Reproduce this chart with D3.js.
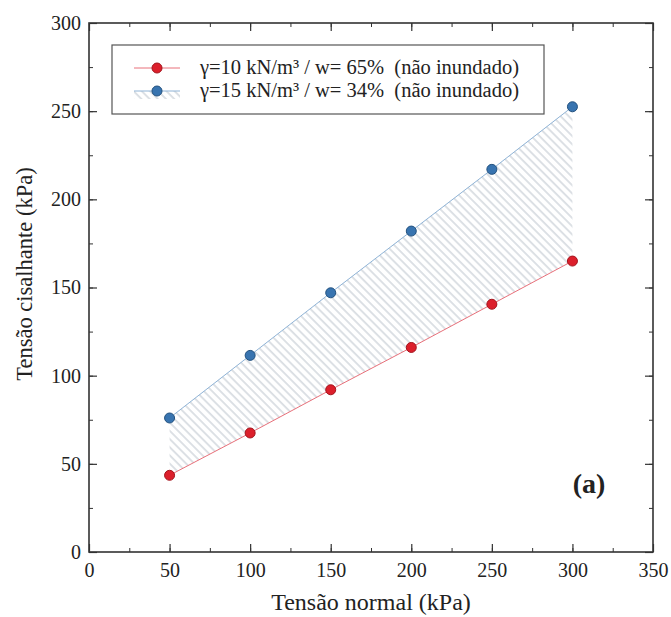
<!DOCTYPE html>
<html>
<head>
<meta charset="utf-8">
<script src="https://cdn.jsdelivr.net/npm/d3@7"></script>
<style>
  html, body { margin: 0; padding: 0; background: #fff; }
  svg text { font-family: "Liberation Serif", "Times New Roman", serif; fill: #222; }
</style>
</head>
<body>
<svg id="chart" width="671" height="617"></svg>
<script>
// Normal stress (kPa)
const normalStress = [50, 100, 150, 200, 250, 300];
// Shear strength, γ=10 kN/m³ / w=65%
const shearLow = [43.5, 67.5, 92, 116, 140.5, 165];
// Shear strength, γ=15 kN/m³ / w=34%
const shearHigh = [76, 111.5, 147, 182, 217, 252.5];

const xTicks = [0, 50, 100, 150, 200, 250, 300, 350];
const yTicks = [0, 50, 100, 150, 200, 250, 300];
const seriesLabels = [
  "γ=10 kN/m³ / w= 65%  (não inundado)",
  "γ=15 kN/m³ / w= 34%  (não inundado)"
];

const svg = d3.select("#chart");
const margin = { left: 89, right: 18, top: 23, bottom: 65 };
const W = 671, H = 617;

const x = d3.scaleLinear().domain([0, 350]).range([margin.left, W - margin.right]);
const y = d3.scaleLinear().domain([0, 300]).range([H - margin.bottom, margin.top]);

// Diagonal hatch used for the band between both envelopes
const defs = svg.append("defs");
const pat = defs.append("pattern")
  .attr("id", "hatch")
  .attr("patternUnits", "userSpaceOnUse")
  .attr("width", 5.8).attr("height", 5.8)
  .attr("patternTransform", "rotate(-45)");
pat.append("line")
  .attr("x1", 1).attr("y1", 0).attr("x2", 1).attr("y2", 5.8)
  .attr("stroke", "#b4bcc6").attr("stroke-width", 0.9);

const pts = normalStress.map((s, i) => ({ s, lo: shearLow[i], hi: shearHigh[i] }));

svg.append("path")
  .datum(pts)
  .attr("fill", "url(#hatch)")
  .attr("d", d3.area().x(d => x(d.s)).y0(d => y(d.lo)).y1(d => y(d.hi)));

// Envelope lines
const line = key => d3.line().x(d => x(d.s)).y(d => y(d[key]));
svg.append("path").datum(pts).attr("fill", "none")
  .attr("stroke", "#e8707a").attr("stroke-width", 1).attr("d", line("lo"));
svg.append("path").datum(pts).attr("fill", "none")
  .attr("stroke", "#8fb3d6").attr("stroke-width", 1).attr("d", line("hi"));

// Markers
svg.selectAll("circle.lo").data(pts).join("circle")
  .attr("class", "lo")
  .attr("cx", d => x(d.s)).attr("cy", d => y(d.lo)).attr("r", 5)
  .attr("fill", "#dc1f2b").attr("stroke", "#a3141d").attr("stroke-width", 1);
svg.selectAll("circle.hi").data(pts).join("circle")
  .attr("class", "hi")
  .attr("cx", d => x(d.s)).attr("cy", d => y(d.hi)).attr("r", 5)
  .attr("fill", "#3874b0").attr("stroke", "#24527f").attr("stroke-width", 1);

// Frame with inward ticks on all four sides
const minorX = d3.range(0, 351, 25);
const minorY = d3.range(0, 301, 25);
const axisColor = "#333";

function inwardAxis(axisFn, scale, g, ticks, minor, fmtShow) {
  // minor ticks
  g.append("g").call(axisFn(scale).tickValues(minor).tickSize(-4).tickFormat(""))
    .call(a => a.select(".domain").remove())
    .call(a => a.selectAll("line").attr("stroke", axisColor).attr("stroke-width", 1));
  // major ticks
  const major = g.append("g").call(axisFn(scale).tickValues(ticks).tickSize(-8).tickPadding(fmtShow ? 14 : 0)
    .tickFormat(fmtShow ? d3.format("d") : ""));
  major.attr("font-family", null);
  major.select(".domain").remove();
  major.selectAll("line").attr("stroke", axisColor).attr("stroke-width", 1.2);
  major.selectAll("text").attr("font-size", 20).attr("fill", "#222")
    .style("font-family", "'Liberation Serif', 'Times New Roman', serif");
  return major;
}

const gB = svg.append("g").attr("transform", `translate(0,${y(0)})`);
const bx = inwardAxis(d3.axisBottom, x, gB, xTicks, minorX, true);
bx.selectAll("text").attr("dy", "0.71em").attr("y", 11);

const gT = svg.append("g").attr("transform", `translate(0,${y(300)})`);
inwardAxis(d3.axisTop, x, gT, xTicks, minorX, false);

const gL = svg.append("g").attr("transform", `translate(${x(0)},0)`);
const ly = inwardAxis(d3.axisLeft, y, gL, yTicks, minorY, true);
ly.selectAll("text").attr("x", -8);

const gR = svg.append("g").attr("transform", `translate(${x(350)},0)`);
inwardAxis(d3.axisRight, y, gR, yTicks, minorY, false);

svg.append("rect")
  .attr("x", x(0)).attr("y", y(300))
  .attr("width", x(350) - x(0)).attr("height", y(0) - y(300))
  .attr("fill", "none").attr("stroke", axisColor).attr("stroke-width", 1.6);

// Axis titles
svg.append("text")
  .attr("x", (x(0) + x(350)) / 2).attr("y", 610)
  .attr("text-anchor", "middle").attr("font-size", 24)
  .text("Tensão normal (kPa)");
svg.append("text")
  .attr("transform", `translate(32,${274}) rotate(-90)`)
  .attr("text-anchor", "middle").attr("font-size", 22.5)
  .text("Tensão cisalhante (kPa)");

// Panel label
svg.append("text")
  .attr("x", 589).attr("y", 493)
  .attr("text-anchor", "middle").attr("font-size", 28).attr("font-weight", "bold")
  .attr("fill", "#111")
  .text("(a)");

// Legend
const lg = svg.append("g");
lg.append("rect")
  .attr("x", 112).attr("y", 45).attr("width", 432).attr("height", 69)
  .attr("fill", "#fff").attr("stroke", "#555").attr("stroke-width", 1.2);

const legendRows = [
  { label: seriesLabels[0], line: "#e8707a", fill: "#dc1f2b", stroke: "#a3141d", hatch: false },
  { label: seriesLabels[1], line: "#8fb3d6", fill: "#3874b0", stroke: "#24527f", hatch: true }
];
legendRows.forEach((r, i) => {
  const cy = 68 + i * 23;
  if (r.hatch) {
    lg.append("rect").attr("x", 134).attr("y", cy).attr("width", 46).attr("height", 8)
      .attr("fill", "url(#hatch)");
  }
  lg.append("line").attr("x1", 134).attr("x2", 180).attr("y1", cy).attr("y2", cy)
    .attr("stroke", r.line).attr("stroke-width", 1);
  lg.append("circle").attr("cx", 157).attr("cy", cy).attr("r", 5)
    .attr("fill", r.fill).attr("stroke", r.stroke).attr("stroke-width", 1);
  lg.append("text").attr("x", 200).attr("y", cy + 6)
    .attr("font-size", 20.5).attr("xml:space", "preserve")
    .style("white-space", "pre")
    .text(r.label);
});
</script>
</body>
</html>
